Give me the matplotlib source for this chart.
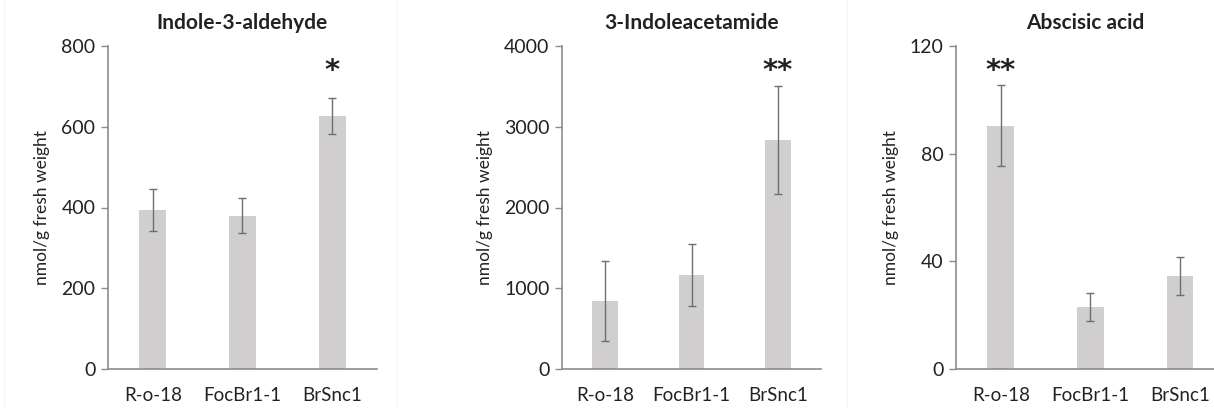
import numpy as np
import matplotlib
matplotlib.use('Agg')
import matplotlib.pyplot as plt
from matplotlib.lines import Line2D

plt.rcParams['font.family'] = ['Lato', 'DejaVu Sans']

strains = ['R-o-18', 'FocBr1-1', 'BrSnc1']

### data
titles = ['Indole-3-aldehyde', '3-Indoleacetamide', 'Abscisic acid']
iald_mean = [394, 380, 627]
iald_err = [53, 44, 44]
iam_mean = [842, 1160, 2840]
iam_err = [497, 382, 670]
aba_mean = [90.4, 22.9, 34.6]
aba_err = [15.0, 5.2, 7.0]
ymax = [800, 4000, 120]
yticks = [[0, 200, 400, 600, 800],
          [0, 1000, 2000, 3000, 4000],
          [0, 40, 80, 120]]
stars = ['', '', '*']
stars2 = ['', '', '**']
stars3 = ['**', '', '']
star_y = [748, 3740, 112]

means = [iald_mean, iam_mean, aba_mean]
errs = [iald_err, iam_err, aba_err]
marks = [stars, stars2, stars3]

W, H = 1214, 408
fig = plt.figure(figsize=(W / 100, H / 100), dpi=100)

# left, right pixel of each axes and right xlim
boxes = [(108, 377, 2.5), (562, 821, 2.5), (956, 1214, 2.38)]
top_px, bot_px = 46, 369

bar_col = '#d0cece'
line_col = '#8c8c8c'

# faint panel separators from the original layout
for xp in [4, 397, 847]:
    fig.add_artist(Line2D([xp / W, xp / W], [0, 1], color='#f5f5f5', lw=1))

for i in range(3):
    l, r, xr = boxes[i]
    ax = fig.add_axes([l / W, 1 - bot_px / H, (r - l) / W, (bot_px - top_px) / H])
    x = np.arange(3)
    ax.bar(x, means[i], width=0.3, color=bar_col, zorder=2)
    ax.errorbar(x, means[i], yerr=errs[i], fmt='none', ecolor='#6f6f6f',
                elinewidth=1, capsize=3, capthick=1, zorder=3)
    for j in range(3):
        if marks[i][j]:
            # asterisk glyph sits high in its box, so anchor on the baseline
            ax.annotate(marks[i][j], (x[j], star_y[i]), xytext=(0, -8.5),
                        textcoords='offset points', ha='center', va='baseline',
                        fontsize=21, fontweight='bold', color='#222222',
                        family='DejaVu Sans')
    ax.set_xlim(-0.5, xr)
    ax.set_ylim(0, ymax[i])
    ax.set_yticks(yticks[i])
    ax.set_xticks(x)
    ax.set_xticklabels(strains)
    ax.tick_params(axis='x', length=0, pad=13, labelsize=13.5, labelcolor='#222222')
    ax.tick_params(axis='y', length=5, width=1, color=line_col, pad=4,
                   labelsize=14, labelcolor='#222222')
    for s in ['top', 'right']:
        ax.spines[s].set_visible(False)
    for s in ['left', 'bottom']:
        ax.spines[s].set_color(line_col)
        ax.spines[s].set_linewidth(1.2)
    ax.set_ylabel('nmol/g fresh weight', fontsize=12.5, color='#222222', labelpad=8)
    ax.set_title(titles[i], fontsize=15, fontweight='bold', color='#222222', pad=12)

fig.savefig('out.png', dpi=100, facecolor='white')
